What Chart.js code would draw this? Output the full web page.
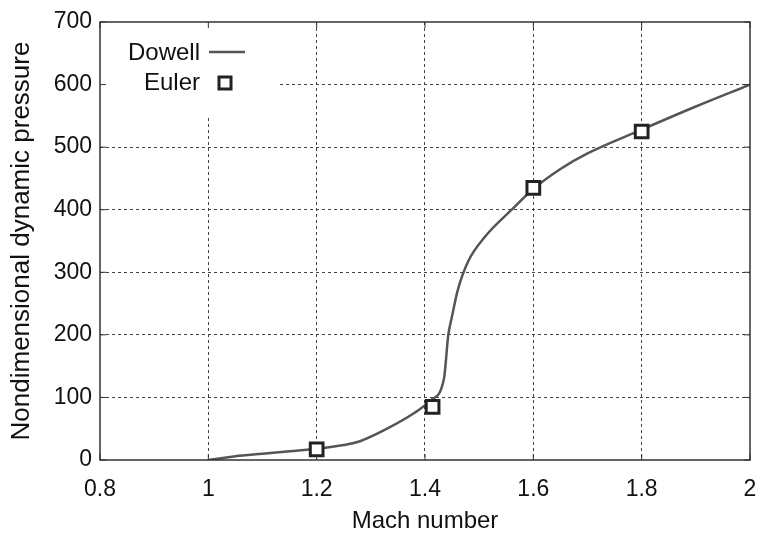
<!DOCTYPE html>
<html>
<head>
<meta charset="utf-8">
<script src="https://cdn.jsdelivr.net/npm/chart.js@4"></script>
<style>
  html, body { margin: 0; padding: 0; background: #fff; }
  #wrap { width: 763px; height: 536px; }
</style>
</head>
<body>
<div id="wrap"><canvas id="machChart"></canvas></div>
<script>
// Dowell curve
const dowellMach = [1.0, 1.05, 1.1, 1.15, 1.2, 1.25, 1.28, 1.33, 1.38, 1.41, 1.435, 1.443, 1.45, 1.46, 1.48, 1.51, 1.56, 1.6, 1.65, 1.7, 1.8, 1.9, 2.0];
const dowellQ    = [0, 6, 10, 14, 18, 24, 30, 50, 75, 95, 130, 200, 230, 270, 318, 356, 400, 433, 465, 490, 528, 565, 600];

// Euler points
const eulerMach = [1.2, 1.414, 1.6, 1.8];
const eulerQ    = [17, 85, 435, 525];

const xTicks = [0.8, 1, 1.2, 1.4, 1.6, 1.8, 2];
const yTicks = [0, 100, 200, 300, 400, 500, 600, 700];

const FONT = 'Liberation Sans, Arial, Helvetica, sans-serif';
const ctx = document.getElementById('machChart').getContext('2d');

const frame = {
  id: 'frame',
  beforeDatasetsDraw(chart) {
    // white box behind the key, covering the grid
    const c = chart.ctx, a = chart.chartArea;
    c.save();
    c.fillStyle = '#fff';
    c.fillRect(a.left + 1, a.top + 1, 177, 95);
    c.restore();
  },
  afterDraw(chart) {
    const c = chart.ctx, a = chart.chartArea;
    const xs = chart.scales.x, ys = chart.scales.y;
    c.save();
    c.strokeStyle = '#333';
    c.lineWidth = 1.5;
    c.strokeRect(a.left, a.top, a.right - a.left, a.bottom - a.top);
    // inward tick marks
    c.lineWidth = 1;
    xTicks.forEach(v => {
      const p = xs.getPixelForValue(v);
      c.beginPath(); c.moveTo(p, a.bottom); c.lineTo(p, a.bottom - 6); c.stroke();
      c.beginPath(); c.moveTo(p, a.top); c.lineTo(p, a.top + 6); c.stroke();
    });
    yTicks.forEach(v => {
      const p = ys.getPixelForValue(v);
      c.beginPath(); c.moveTo(a.left, p); c.lineTo(a.left + 6, p); c.stroke();
      c.beginPath(); c.moveTo(a.right, p); c.lineTo(a.right - 6, p); c.stroke();
    });
    // key, gnuplot style
    c.fillStyle = '#111';
    c.font = '24px ' + FONT;
    c.textAlign = 'right';
    c.textBaseline = 'middle';
    c.fillText('Dowell', a.left + 100, a.top + 31);
    c.fillText('Euler', a.left + 100, a.top + 61);
    c.strokeStyle = '#555';
    c.lineWidth = 2.5;
    c.beginPath(); c.moveTo(a.left + 109, a.top + 30); c.lineTo(a.left + 145, a.top + 30); c.stroke();
    c.strokeStyle = '#222';
    c.fillStyle = '#fff';
    c.lineWidth = 3;
    c.fillRect(a.left + 119, a.top + 55, 12, 12);
    c.strokeRect(a.left + 119, a.top + 55, 12, 12);
    c.restore();
  }
};

new Chart(ctx, {
  type: 'scatter',
  data: {
    datasets: [
      {
        label: 'Dowell',
        data: dowellMach.map((m, i) => ({ x: m, y: dowellQ[i] })),
        showLine: true,
        borderColor: '#555',
        borderWidth: 2.5,
        pointRadius: 0,
        cubicInterpolationMode: 'monotone',
        order: 2
      },
      {
        label: 'Euler',
        data: eulerMach.map((m, i) => ({ x: m, y: eulerQ[i] })),
        showLine: false,
        pointStyle: 'rect',
        pointRadius: 9,
        pointBorderWidth: 3,
        pointBorderColor: '#222',
        pointBackgroundColor: '#fff',
        order: 1
      }
    ]
  },
  options: {
    responsive: true,
    maintainAspectRatio: false,
    animation: false,
    layout: { padding: { top: 22, right: 13, left: 0, bottom: 0 } },
    plugins: { legend: { display: false }, tooltip: { enabled: false } },
    scales: {
      x: {
        type: 'linear',
        min: 0.8, max: 2,
        afterBuildTicks: s => { s.ticks = xTicks.map(v => ({ value: v })); },
        afterFit: s => { s.height = 76; s.paddingLeft = 0; s.paddingRight = 0; },
        ticks: { color: '#111', font: { family: FONT, size: 23 }, padding: 16,
                 callback: v => String(v) },
        grid: {
          drawTicks: false,
          color: c => (c.tick && (c.tick.value === 0.8 || c.tick.value === 2)) ? 'rgba(0,0,0,0)' : '#444',
          lineWidth: 1
        },
        border: { display: false, dash: [3, 3] },
        title: { display: true, text: 'Mach number', color: '#111',
                 font: { family: FONT, size: 24 }, padding: { top: 0, bottom: 0 } }
      },
      y: {
        type: 'linear',
        min: 0, max: 700,
        afterBuildTicks: s => { s.ticks = yTicks.map(v => ({ value: v })); },
        afterFit: s => { s.width = 100; s.paddingTop = 0; s.paddingBottom = 0; },
        ticks: { color: '#111', font: { family: FONT, size: 23 }, padding: 8 },
        grid: {
          drawTicks: false,
          color: c => (c.tick && (c.tick.value === 0 || c.tick.value === 700)) ? 'rgba(0,0,0,0)' : '#444',
          lineWidth: 1
        },
        border: { display: false, dash: [3, 3] },
        title: { display: true, text: 'Nondimensional dynamic pressure', color: '#111',
                 font: { family: FONT, size: 26 }, padding: { top: 6, bottom: 0 } }
      }
    }
  },
  plugins: [frame]
});
</script>
</body>
</html>
